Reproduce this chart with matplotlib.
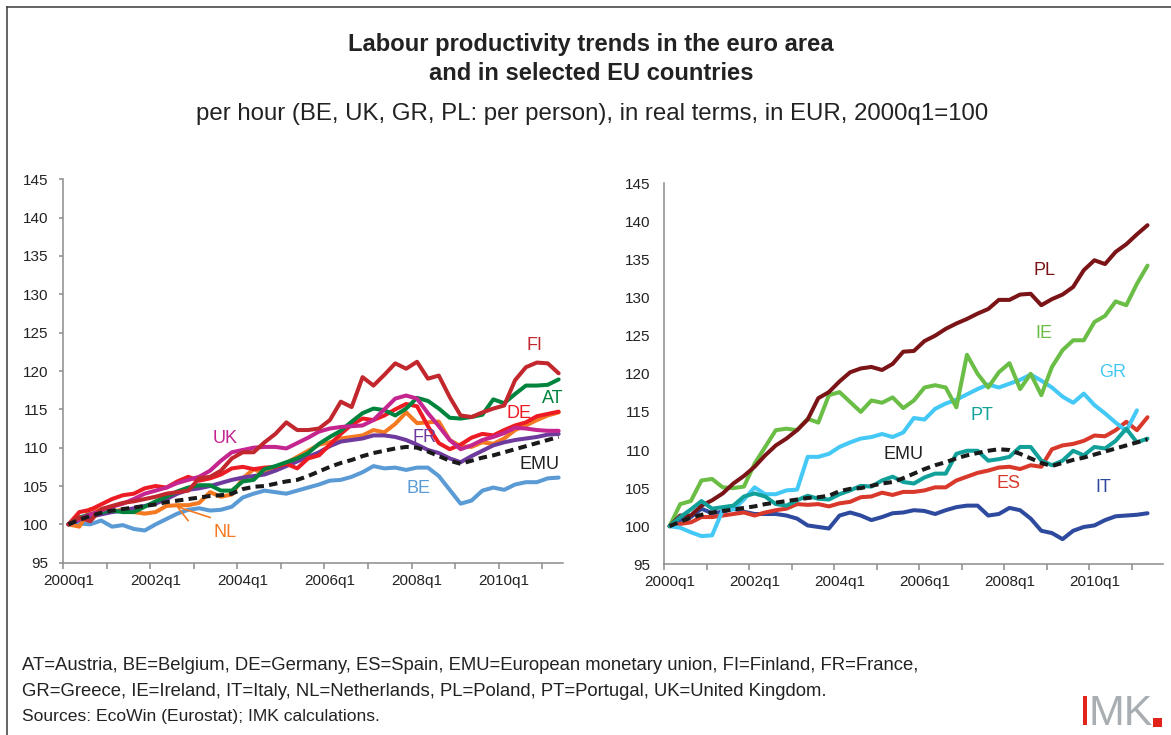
import matplotlib
matplotlib.use("Agg")
import matplotlib.pyplot as plt
from matplotlib.patches import Rectangle
from matplotlib.lines import Line2D

plt.rcParams['font.family'] = ['Liberation Sans', 'DejaVu Sans']

# ---------------- data (index 100 = 2000q1, quarterly 2000q1..2011q2) ----------------
tick_labels = ["2000q1", "2002q1", "2004q1", "2006q1", "2008q1", "2010q1"]
tick_label_pos = [0, 8, 16, 24, 32, 40]

emu = [100, 100.6, 101.1, 101.5, 101.8, 102.0, 102.2, 102.4, 102.6, 102.9, 103.1, 103.3,
       103.5, 103.7, 103.8, 104.0, 104.6, 104.9, 105.0, 105.3, 105.6, 105.8, 106.3, 106.9,
       107.5, 108.0, 108.4, 108.9, 109.3, 109.6, 109.9, 110.1, 110.0, 109.5, 108.9, 108.3,
       107.9, 108.3, 108.7, 109.0, 109.4, 109.8, 110.2, 110.6, 111.0, 111.4]

# left panel
be = [100, 100.1, 100.0, 100.5, 99.7, 99.9, 99.4, 99.2, 100.0, 100.7, 101.4, 101.9,
      102.1, 101.8, 101.9, 102.3, 103.5, 104.0, 104.4, 104.2, 104.0, 104.4, 104.8, 105.2,
      105.7, 105.8, 106.2, 106.8, 107.6, 107.3, 107.4, 107.1, 107.4, 107.4, 106.3, 104.5,
      102.7, 103.1, 104.4, 104.8, 104.5, 105.2, 105.5, 105.5, 106.0, 106.1]
fr = [100, 100.6, 101.0, 101.3, 101.6, 101.8, 102.1, 102.4, 102.7, 103.3, 104.0, 104.5,
      104.7, 105.0, 105.4, 105.8, 106.1, 106.3, 106.5, 107.0, 107.6, 108.2, 108.8, 109.4,
      110.2, 110.8, 111.0, 111.2, 111.6, 111.6, 111.4, 111.0, 110.4, 109.7, 109.3, 108.6,
      108.1, 108.9, 109.6, 110.3, 110.7, 111.0, 111.2, 111.4, 111.7, 111.8]
uk = [100, 100.7, 101.3, 101.8, 102.3, 102.7, 103.3, 104.0, 104.4, 104.8, 105.4, 105.8,
      106.2, 107.0, 108.3, 109.4, 109.7, 110.0, 110.1, 110.1, 109.9, 110.6, 111.3, 112.1,
      112.5, 112.7, 112.8, 112.9, 113.6, 115.0, 116.4, 116.8, 116.4, 114.5, 112.8, 111.0,
      109.8, 110.3, 111.0, 111.4, 111.9, 112.6, 112.5, 112.3, 112.2, 112.2]
at = [100, 100.9, 101.3, 101.6, 101.8, 101.6, 101.6, 102.3, 103.0, 103.6, 104.3, 104.8,
      105.1, 105.1, 104.4, 104.4, 105.6, 105.8, 107.2, 107.6, 108.1, 108.6, 109.3, 110.5,
      111.4, 112.2, 113.4, 114.5, 115.1, 114.9, 114.2, 115.1, 116.5, 116.1, 115.1, 113.9,
      113.8, 114.0, 114.3, 116.3, 115.8, 117.0, 118.1, 118.1, 118.2, 118.9]
de = [100, 101.6, 101.9, 102.6, 103.3, 103.8, 104.0, 104.7, 105.0, 104.8, 105.6, 106.2,
      105.7, 106.0, 106.5, 107.3, 107.5, 107.2, 107.4, 107.5, 107.9, 107.3, 108.6, 109.0,
      110.4, 111.8, 113.0, 113.8, 113.6, 114.2, 115.0, 115.7, 115.4, 112.8, 110.6, 109.8,
      110.4, 111.3, 111.8, 111.6, 112.3, 112.9, 113.3, 114.1, 114.4, 114.7]
fi = [100, 100.9, 100.4, 102.0, 102.4, 102.8, 103.0, 103.3, 103.6, 104.0, 104.2, 104.4,
      106.0, 106.2, 107.0, 108.6, 109.4, 109.4, 110.7, 111.8, 113.3, 112.3, 112.3, 112.5,
      113.6, 116.0, 115.3, 119.2, 118.1, 119.5, 121.0, 120.3, 121.2, 119.0, 119.4, 116.6,
      114.2, 114.0, 114.6, 115.1, 115.5, 118.8, 120.5, 121.1, 121.0, 119.7]
nl = [100, 99.7, 102.0, 101.8, 101.7, 101.9, 101.6, 101.4, 101.6, 102.4, 102.5, 102.5,
      102.8, 104.2, 103.6, 103.9, 106.0, 107.2, 106.6, 107.4, 108.0, 108.8, 109.6, 110.4,
      110.7, 111.2, 111.4, 111.6, 112.3, 112.0, 113.1, 114.6, 113.2, 113.3, 113.4, 111.0,
      110.2, 110.1, 110.7, 110.5, 111.2, 112.3, 112.9, 113.6, 114.2, 114.6]

# right panel
pl = [100, 101.4, 101.4, 102.7, 103.4, 104.3, 105.6, 106.6, 107.8, 109.3, 110.6, 111.5,
      112.6, 114.0, 116.8, 117.6, 119.0, 120.2, 120.7, 120.9, 120.5, 121.3, 122.9, 123.0,
      124.3, 125.0, 125.9, 126.6, 127.2, 127.9, 128.5, 129.7, 129.7, 130.4, 130.5, 129.0,
      129.8, 130.4, 131.4, 133.6, 134.9, 134.4, 136.0, 137.0, 138.3, 139.5]
ie = [100, 102.9, 103.3, 106.0, 106.2, 105.1, 105.0, 105.2, 108.2, 110.4, 112.6, 112.8,
      112.6, 114.1, 113.6, 117.2, 117.6, 116.3, 115.0, 116.5, 116.2, 116.9, 115.5, 116.5,
      118.2, 118.5, 118.2, 115.6, 122.5, 120.0, 118.2, 120.2, 121.4, 118.0, 120.0, 117.2,
      120.9, 123.1, 124.4, 124.4, 126.8, 127.6, 129.5, 129.0, 131.8, 134.2]
gr = [100, 99.8, 99.2, 98.7, 98.8, 102.1, 102.2, 103.5, 105.1, 104.2, 104.2, 104.7,
      104.8, 109.1, 109.1, 109.5, 110.4, 111.0, 111.5, 111.7, 112.1, 111.7, 112.3, 114.2,
      114.0, 115.4, 116.1, 116.6, 117.3, 118.0, 118.6, 118.2, 118.7, 119.2, 119.9, 119.1,
      118.2, 117.0, 116.2, 117.4, 115.9, 114.8, 113.6, 112.5, 115.2]
pt = [100, 101.2, 102.2, 103.3, 102.3, 102.5, 102.7, 103.9, 104.3, 103.9, 102.9, 102.7,
      103.4, 104.0, 103.6, 103.5, 104.2, 104.7, 105.3, 105.2, 106.0, 106.5, 105.8, 105.6,
      106.4, 106.9, 106.9, 109.5, 109.9, 109.9, 108.6, 108.8, 109.1, 110.4, 110.4, 108.6,
      108.0, 108.6, 109.9, 109.3, 110.4, 110.2, 111.2, 112.8, 111.0, 111.5]
es = [100, 100.3, 100.5, 101.2, 101.2, 101.4, 101.6, 101.8, 101.4, 101.8, 102.1, 102.3,
      102.9, 102.8, 102.9, 102.6, 103.0, 103.2, 103.8, 103.9, 104.4, 104.1, 104.5, 104.5,
      104.7, 105.1, 105.1, 106.0, 106.5, 107.0, 107.3, 107.7, 107.8, 107.5, 108.0, 107.8,
      110.1, 110.6, 110.8, 111.2, 111.9, 111.8, 112.6, 113.7, 112.6, 114.3]
it = [100, 100.8, 101.2, 102.3, 101.7, 101.9, 102.3, 101.9, 101.6, 101.6, 101.6, 101.4,
      101.0, 100.1, 99.9, 99.7, 101.4, 101.8, 101.4, 100.8, 101.2, 101.7, 101.8, 102.1,
      102.0, 101.6, 102.1, 102.5, 102.7, 102.7, 101.4, 101.6, 102.4, 102.1, 101.0, 99.4,
      99.1, 98.3, 99.4, 99.9, 100.1, 100.8, 101.3, 101.4, 101.5, 101.7]

# ---------------- styling ----------------
C = {
    'FI': '#C1272D', 'AT': '#00843D', 'DE': '#ED1C24', 'UK': '#C4258F',
    'FR': '#6E3A9E', 'NL': '#F47920', 'BE': '#5B9BD5', 'EMU': '#1A1A1A',
    'PL': '#7B1416', 'IE': '#6ABD45', 'GR': '#44C8F5', 'PT': '#12A19A',
    'ES': '#D8392B', 'IT': '#2E4A9E',
}
LW = 2.9
AXC = '#8c8c8c'
TXT = '#222222'

fig = plt.figure(figsize=(11.71, 7.35), dpi=100)
W, H = 1171.0, 735.0

def ax_at(x0, x1, ytop, ybot):
    return fig.add_axes([x0 / W, 1 - ybot / H, (x1 - x0) / W, (ybot - ytop) / H])

axL = ax_at(63, 563, 179.3, 562.7)
axR = ax_at(664.3, 1162.7, 183.3, 564.3)


def style(ax, xmax, ytick_len, ypad):
    ax.set_xlim(-0.5, xmax)
    ax.set_ylim(95, 145)
    for s in ('top', 'right'):
        ax.spines[s].set_visible(False)
    for s in ('left', 'bottom'):
        ax.spines[s].set_color(AXC)
        ax.spines[s].set_linewidth(1.1)
    ax.set_yticks(range(95, 150, 5))
    ax.tick_params(axis='y', length=ytick_len, width=1.1, color=AXC, pad=ypad,
                   labelsize=11, labelcolor=TXT)
    ax.set_xticks(tick_label_pos)
    ax.set_xticklabels(tick_labels)
    ax.set_xticks([-0.5 + 4 * k for k in range(12)], minor=True)
    ax.tick_params(axis='x', which='major', length=0, pad=8, labelsize=11, labelcolor=TXT)
    ax.tick_params(axis='x', which='minor', length=4, width=1.1, color=AXC, direction='out')
    ax.patch.set_alpha(0)


style(axL, 45.4, 3.2, 7.2)
style(axR, 46.43, 0, 10)


def draw(ax, data, key, dashed=False, z=2):
    xs = list(range(len(data)))
    if dashed:
        ax.plot(xs, data, color=C[key], lw=LW, dashes=(2.1, 1.3), zorder=z,
                dash_capstyle='butt')
    else:
        ax.plot(xs, data, color=C[key], lw=LW, solid_joinstyle='round',
                solid_capstyle='round', zorder=z)


for d, k in [(be, 'BE'), (nl, 'NL'), (fr, 'FR'), (de, 'DE'), (at, 'AT'), (uk, 'UK'), (fi, 'FI')]:
    draw(axL, d, k)
draw(axL, emu, 'EMU', dashed=True, z=5)

for d, k in [(it, 'IT'), (es, 'ES'), (gr, 'GR'), (ie, 'IE'), (pl, 'PL'), (pt, 'PT')]:
    draw(axR, d, k)
draw(axR, emu, 'EMU', dashed=True, z=5)

LFS = 13
labelsL = [('FI', 42.8, 123.3), ('AT', 44.5, 116.4), ('DE', 41.4, 114.5), ('UK', 14.4, 111.2),
           ('FR', 32.7, 111.3), ('EMU', 43.2, 107.8), ('BE', 32.1, 104.7), ('NL', 14.4, 98.9)]
for k, x, y in labelsL:
    axL.text(x, y, k, color=C[k] if k != 'EMU' else TXT, fontsize=LFS, ha='center', va='center')
# NL leader lines
axL.plot([9.97, 10.98], [102.35, 100.5], color=C['NL'], lw=1.2)
axL.plot([10.2, 13.0], [102.2, 100.9], color=C['NL'], lw=1.2)

labelsR = [('PL', 35.3, 133.6), ('IE', 35.2, 125.3), ('GR', 41.7, 120.2), ('PT', 29.4, 114.5),
           ('EMU', 22.0, 109.4), ('ES', 31.9, 105.6), ('IT', 40.8, 105.1)]
for k, x, y in labelsR:
    axR.text(x, y, k, color=C[k] if k != 'EMU' else TXT, fontsize=LFS, ha='center', va='center')

# ---------------- titles ----------------
fig.text(591 / W, 1 - 45 / H, 'Labour productivity trends in the euro area', ha='center',
         va='center', fontsize=17.1, fontweight='bold', color=TXT)
fig.text(591 / W, 1 - 73 / H, 'and in selected EU countries', ha='center',
         va='center', fontsize=17.1, fontweight='bold', color=TXT)
fig.text(592 / W, 1 - 114 / H,
         'per hour (BE, UK, GR, PL: per person), in real terms, in EUR, 2000q1=100',
         ha='center', va='center', fontsize=17.25, color=TXT)

# ---------------- footnote ----------------
notes = ['AT=Austria, BE=Belgium, DE=Germany, ES=Spain, EMU=European monetary union, FI=Finland, FR=France,',
         'GR=Greece, IE=Ireland, IT=Italy, NL=Netherlands, PL=Poland, PT=Portugal, UK=United Kingdom.',
         'Sources: EcoWin (Eurostat); IMK calculations.']
for txt, yy, fs in zip(notes, [665, 692, 717], [13.3, 13.3, 12.6]):
    fig.text(22 / W, 1 - yy / H, txt, ha='left', va='center', fontsize=fs, color=TXT)

# ---------------- logo ----------------
fig.text(1079 / W, 1 - 725 / H, 'I', ha='left', va='baseline', fontsize=31,
         color='#E2231A')
fig.text(1089 / W, 1 - 725 / H, 'MK', ha='left', va='baseline', fontsize=31,
         color='#A9AEB2')
fig.add_artist(Rectangle((1153 / W, 1 - 727 / H), 9 / W, 9 / H, transform=fig.transFigure,
                         color='#E2231A', lw=0))

# ---------------- frame ----------------
fig.add_artist(Line2D([6.5 / W, 6.5 / W], [1 - 6.7 / H, 0], transform=fig.transFigure,
                      color='#3a3a3a', lw=1.1))
fig.add_artist(Line2D([6.5 / W, 1.0], [1 - 6.7 / H, 1 - 6.7 / H], transform=fig.transFigure,
                      color='#3a3a3a', lw=1.1))

fig.savefig('out.png', dpi=100)
